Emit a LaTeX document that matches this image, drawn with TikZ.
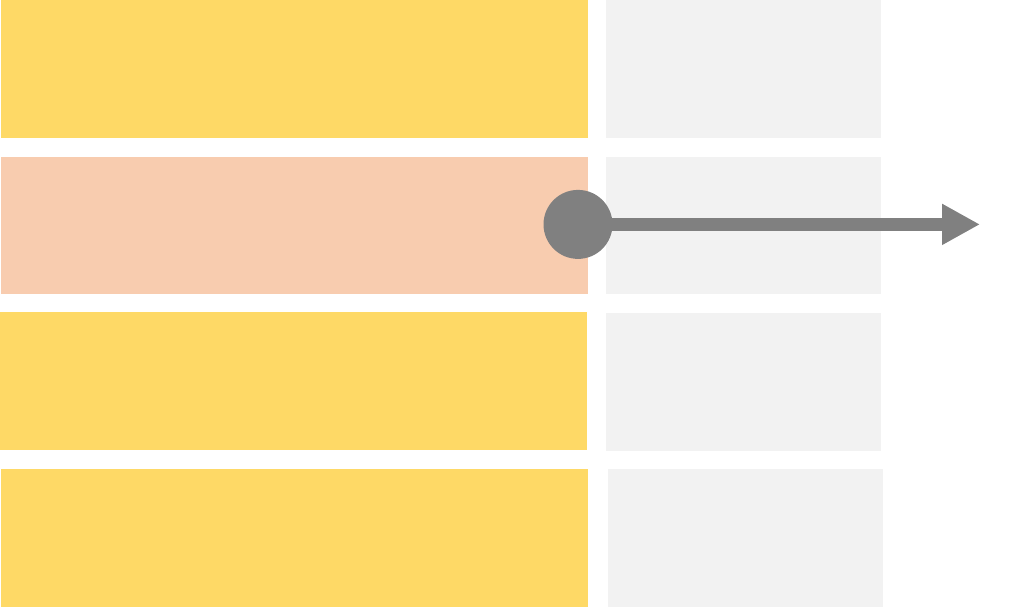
\documentclass[tikz,border=0pt]{standalone}
\usetikzlibrary{arrows.meta}
\definecolor{cyel}{HTML}{FED966}
\definecolor{cpeach}{HTML}{F8CCAF}
\definecolor{cgray}{HTML}{F2F2F2}
\definecolor{cdark}{HTML}{808080}
\begin{document}
\begin{tikzpicture}[x=1pt,y=-1pt,
  box/.style={draw=none,inner sep=0pt,outer sep=0pt,anchor=north west},
  ybox/.style={box,fill=cyel,minimum width=587pt,minimum height=138pt},
  pbox/.style={box,fill=cpeach,minimum width=587pt,minimum height=137pt},
  gbox/.style={box,fill=cgray,minimum width=275pt,minimum height=138pt},
  dot/.style={circle,fill=cdark,draw=none,inner sep=0pt,minimum size=69pt},
  conn/.style={draw=cdark,line width=13pt,-{Triangle[length=38pt,width=38.5pt]}}]
\useasboundingbox (0,0) rectangle (1020,607);
\node[ybox] (y1) at (1,0) {};
\node[gbox] (g1) at (606,0) {};
\node[pbox] (p2) at (1,157) {};
\node[gbox,minimum height=137pt] (g2) at (606,157) {};
\node[ybox,minimum width=587pt] (y3) at (0,312) {};
\node[gbox] (g3) at (606,313) {};
\node[ybox] (y4) at (1,469) {};
\node[gbox] (g4) at (608,469) {};
\coordinate (tip) at (980,224.4);
\draw[conn] (578,224.4) -- (tip);
\node[dot] (c) at (578,224.4) {};
\end{tikzpicture}
\end{document}
